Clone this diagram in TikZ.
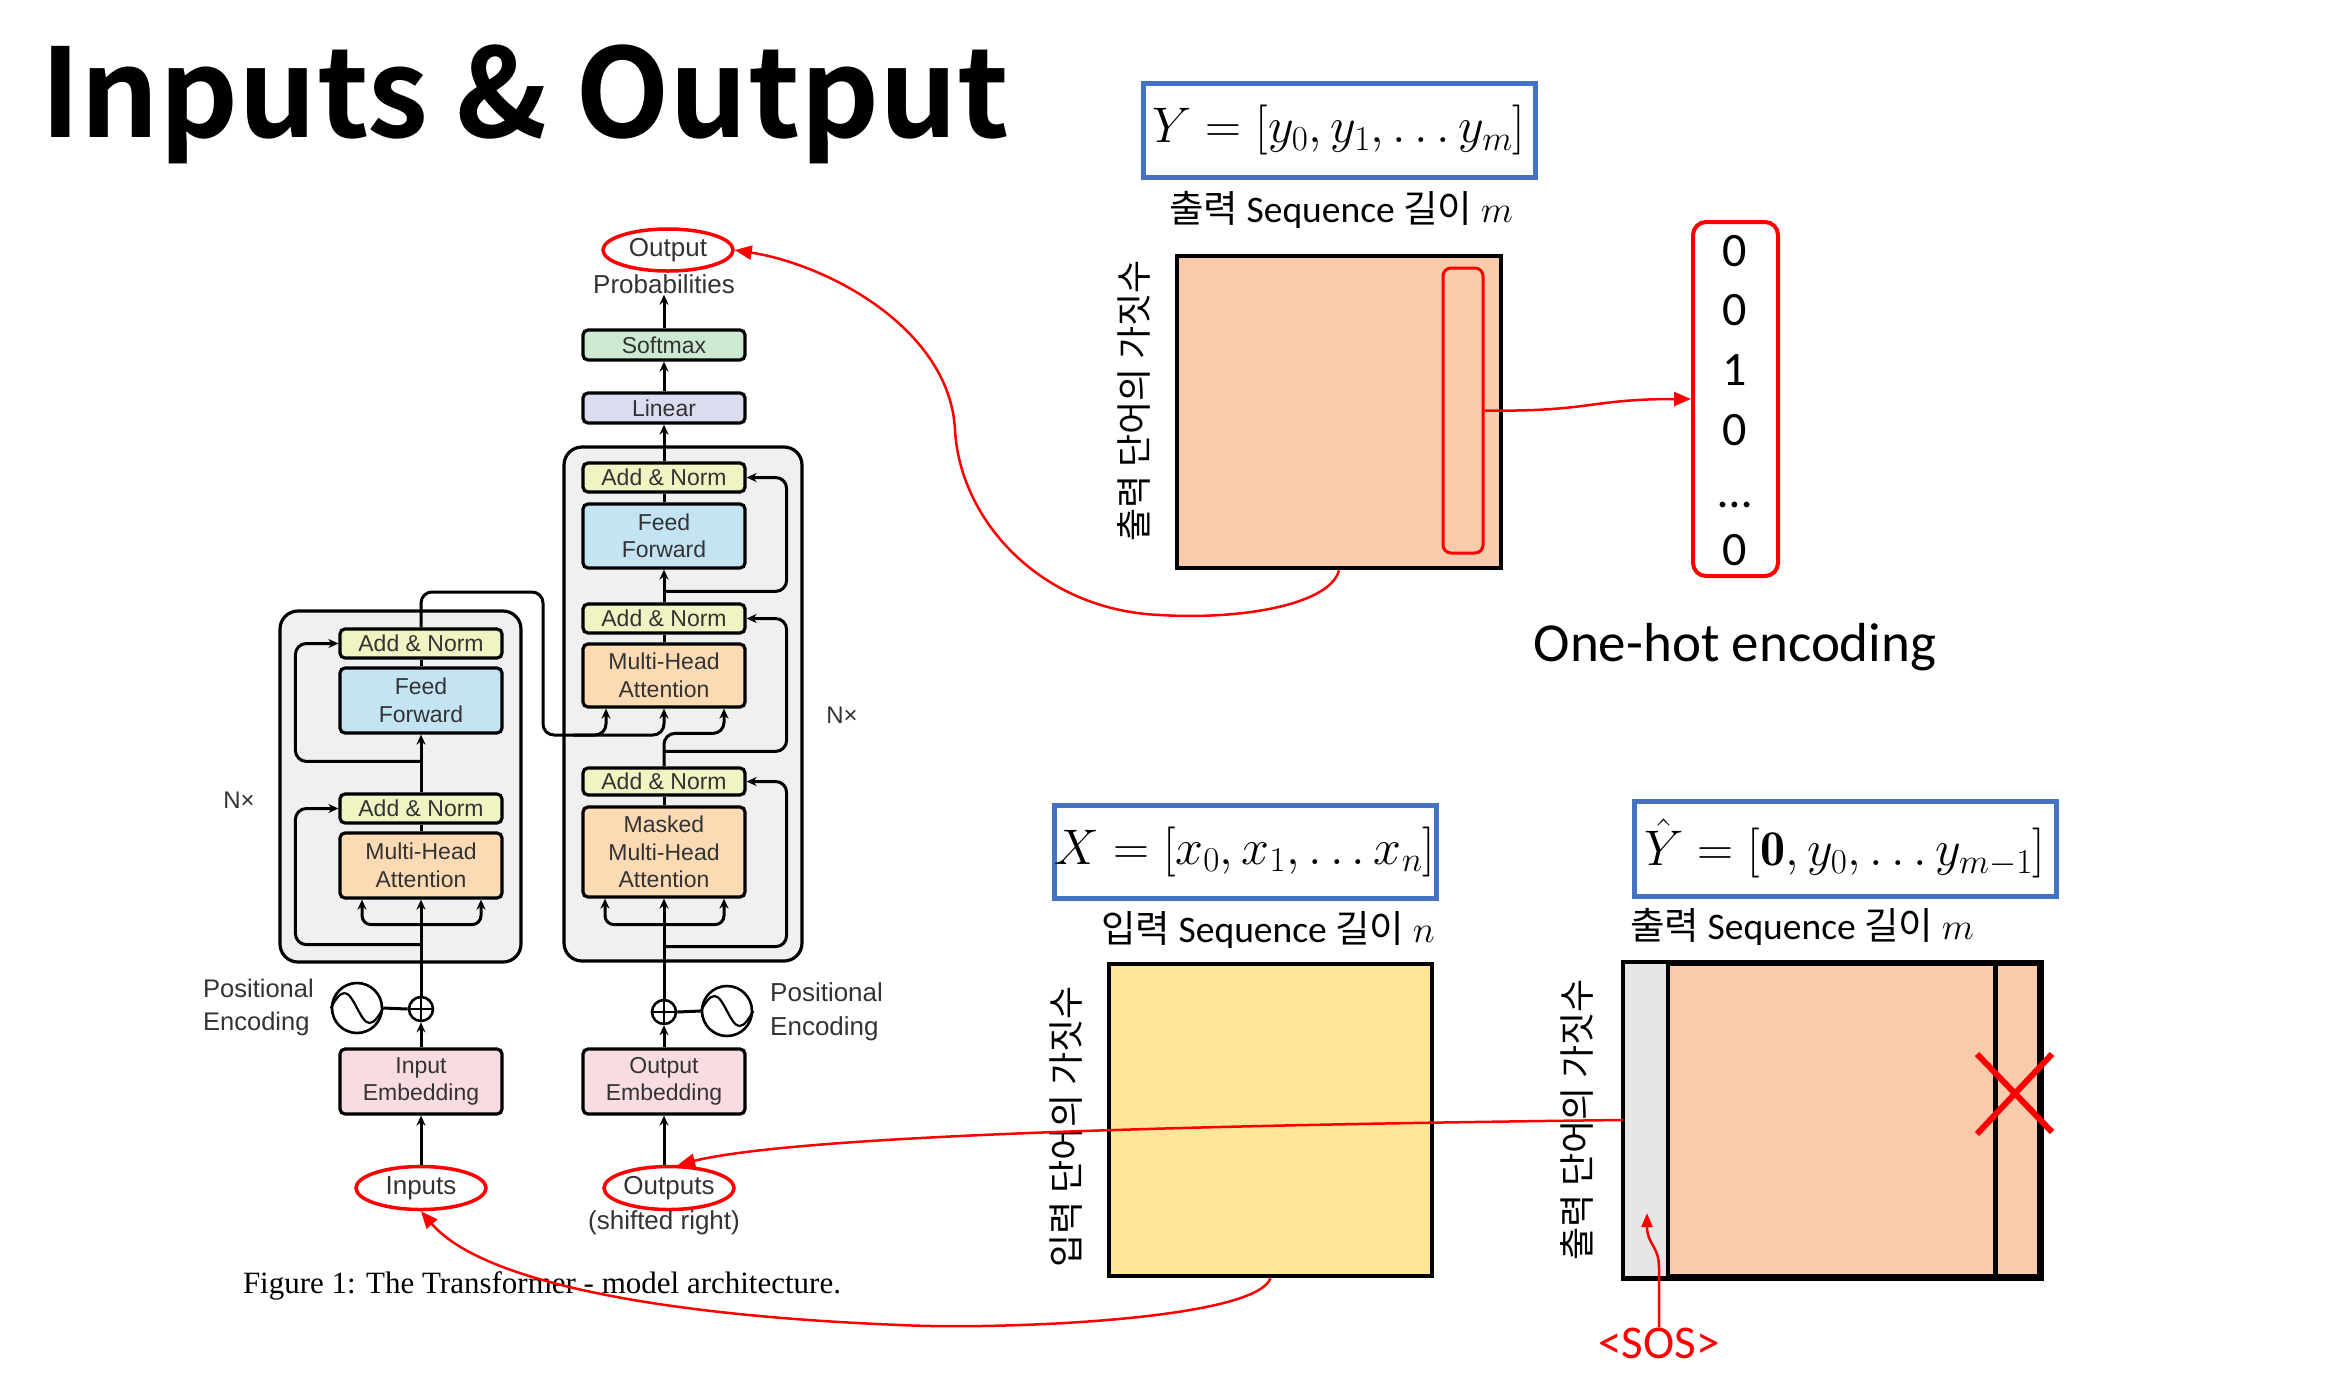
\RequirePackage{fix-cm}
\documentclass[tikz,border=0pt]{standalone}
\usepackage{fontspec}
\usetikzlibrary{arrows.meta,shapes.geometric,calc}
\newfontfamily\krfont{Noto Sans CJK KR}
\newfontfamily\titlefont{Noto Sans CJK KR Bold}
\newfontfamily\calfont{Carlito}
\newfontfamily\helvfont{Liberation Sans}
\newfontfamily\timesfont{Liberation Serif}
\definecolor{anfill}{HTML}{F0F4C3}
\definecolor{fffill}{HTML}{C4E4F4}
\definecolor{mhafill}{HTML}{FCDAB4}
\definecolor{embfill}{HTML}{F9DCE2}
\definecolor{softfill}{HTML}{CCEAD1}
\definecolor{linfill}{HTML}{DCDCF0}
\definecolor{boxgray}{HTML}{F0F0F0}
\definecolor{txtgray}{HTML}{333333}
\definecolor{orangefill}{HTML}{F8CBAD}
\definecolor{yellowfill}{HTML}{FFE699}
\definecolor{grayfill}{HTML}{E7E6E6}
\definecolor{blueline}{HTML}{4472C4}
\definecolor{myred}{HTML}{FF0000}
\begin{document}
\begin{tikzpicture}[x=1pt,y=-1pt,
  tbox/.style={draw=black, line width=3.2pt, rounded corners=5pt, minimum width=162pt, inner sep=0pt, align=center, text=txtgray, font=\helvfont\fontsize{23}{27.5}\selectfont},
  outerbox/.style={draw=black, fill=boxgray, line width=3.2pt, rounded corners=18pt, inner sep=0pt},
  conn/.style={draw=black, line width=3pt},
  arr/.style={conn, -{Stealth[length=10pt,width=9pt]}},
  lab/.style={inner sep=1pt, text=txtgray, font=\helvfont\fontsize{26}{33}\selectfont},
  redell/.style={ellipse, draw=myred, line width=3.5pt, inner sep=0pt, text=txtgray, font=\helvfont\fontsize{26}{30}\selectfont},
  redarr/.style={draw=myred, line width=2.5pt, -{Triangle[length=17pt,width=14pt]}},
  bluebox/.style={draw=blueline, line width=5pt, inner sep=0pt, font=\fontsize{50}{56}\selectfont},
  rectbox/.style={draw=black, line width=4.5pt, inner sep=0pt},
  seqlab/.style={inner sep=0pt, font=\calfont\fontsize{37.5}{42}\selectfont},
  krlab/.style={inner sep=0pt, font=\krfont\fontsize{36}{40}\selectfont},
  digit/.style={anchor=base, inner sep=0pt, font=\calfont\fontsize{48}{52}\selectfont}
]
\useasboundingbox (0,0) rectangle (2345,1385);
\fill[white] (0,0) rectangle (2345,1385);

% title
\node[anchor=base west, inner sep=0pt, font=\titlefont\fontsize{123}{123}\selectfont] (title) at (40,137) {Inputs \& Output};

% ===== Transformer =====
\node[outerbox, minimum width=241pt, minimum height=351pt] (encbox) at (400.5,786.5) {};
\node[outerbox, minimum width=238pt, minimum height=514pt] (decbox) at (683,704) {};

% decoder
\node[tbox, fill=softfill, minimum height=30pt] (soft) at (664,345) {Softmax};
\node[tbox, fill=linfill, minimum height=30pt] (lin) at (664,408) {Linear};
\node[tbox, fill=anfill, minimum height=29pt] (dan1) at (664,477.5) {Add \& Norm};
\node[tbox, fill=fffill, minimum height=64pt] (dff) at (664,536) {Feed\\Forward};
\node[tbox, fill=anfill, minimum height=29pt] (dan2) at (664,618.5) {Add \& Norm};
\node[tbox, fill=mhafill, minimum height=63pt] (dmha) at (664,675.5) {Multi-Head\\Attention};
\node[tbox, fill=anfill, minimum height=27pt] (dan3) at (664,781.5) {Add \& Norm};
\node[tbox, fill=mhafill, minimum height=90pt] (dmmha) at (664,852) {Masked\\Multi-Head\\Attention};
\node[tbox, fill=embfill, minimum height=65pt] (demb) at (664,1081.5) {Output\\Embedding};

% encoder
\node[tbox, fill=anfill, minimum height=29pt] (ean1) at (421,643.5) {Add \& Norm};
\node[tbox, fill=fffill, minimum height=65pt] (eff) at (421,700.5) {Feed\\Forward};
\node[tbox, fill=anfill, minimum height=29pt] (ean2) at (421,808.5) {Add \& Norm};
\node[tbox, fill=mhafill, minimum height=65pt] (emha) at (421,865.5) {Multi-Head\\Attention};
\node[tbox, fill=embfill, minimum height=65pt] (eemb) at (421,1081.5) {Input\\Embedding};

% positional encodings
\node[circle, draw=black, line width=2.6pt, minimum size=24pt, inner sep=0pt] (eplus) at (421,1009) {};
\draw[line width=2.2pt] (eplus.north) -- (eplus.south) (eplus.west) -- (eplus.east);
\node[circle, draw=black, line width=2.6pt, minimum size=50pt, inner sep=0pt] (esine) at (357,1008) {};
\draw[line width=2.2pt] (esine.west) sin ($(esine.center)+(-12.5,-15)$) cos (esine.center) sin ($(esine.center)+(12.5,15)$) cos (esine.east);
\draw[conn] (esine.east) -- (eplus.west);
\node[circle, draw=black, line width=2.6pt, minimum size=24pt, inner sep=0pt] (dplus) at (664,1012) {};
\draw[line width=2.2pt] (dplus.north) -- (dplus.south) (dplus.west) -- (dplus.east);
\node[circle, draw=black, line width=2.6pt, minimum size=50pt, inner sep=0pt] (dsine) at (727,1011) {};
\draw[line width=2.2pt] (dsine.west) sin ($(dsine.center)+(-12.5,-15)$) cos (dsine.center) sin ($(dsine.center)+(12.5,15)$) cos (dsine.east);
\draw[conn] (dplus.east) -- (dsine.west);

\node[lab, align=left, anchor=west, font=\helvfont\fontsize{25.5}{33}\selectfont] (epos) at (202,1007) {Positional\\Encoding};
\node[lab, align=left, anchor=west, font=\helvfont\fontsize{26}{34}\selectfont] (dpos) at (769,1012) {Positional\\Encoding};
\node[lab, font=\helvfont\fontsize{24}{28}\selectfont] (enx) at (239,800) {N×};
\node[lab, font=\helvfont\fontsize{24}{28}\selectfont] (dnx) at (842,715) {N×};

% inputs / outputs
\node[redell, minimum width=130pt, minimum height=42pt] (oprob) at (668,250) {Output};
\node[lab] (prob) at (664,284) {Probabilities};
\node[redell, minimum width=130pt, minimum height=43pt] (inell) at (421,1188) {Inputs};
\node[redell, minimum width=130pt, minimum height=43pt] (outell) at (669,1188) {Outputs};
\node[lab] (shift) at (664,1223) {(shifted right)};
\node[anchor=base, inner sep=0pt, font=\timesfont\fontsize{31}{35}\selectfont] (caption) at (542,1293) {Figure 1: The Transformer - model architecture.};

% encoder connectors
\draw[arr] (inell.north) -- (eemb.south);
\draw[arr] (eemb.north) -- (eplus.south);
\draw[arr] (eplus.north) -- (emha.south);
\draw[arr, rounded corners=9pt] ([yshift=-25pt]emha.south) -| ([xshift=-59pt]emha.south);
\draw[arr, rounded corners=9pt] ([yshift=-25pt]emha.south) -| ([xshift=60pt]emha.south);
\draw[arr, rounded corners=11pt] ([yshift=-45pt]emha.south) -| ([xshift=-43pt]ean2.west) -- (ean2.west);
\draw[conn] (emha.north) -- (ean2.south);
\draw[arr] (ean2.north) -- (eff.south);
\draw[arr, rounded corners=11pt] ([yshift=31pt]ean2.north) -| ([xshift=-43pt]ean1.west) -- (ean1.west);
\draw[conn] (eff.north) -- (ean1.south);
\coordinate (kv) at (543,735);
\draw[arr, rounded corners=11pt] (ean1.north) |- ($(kv)+(0,-143)$) -- (kv) -| ([xshift=-58pt]dmha.south);
\draw[arr, rounded corners=11pt] ([xshift=30pt]kv) -| (dmha.south);

% decoder connectors
\draw[arr] (demb.south |- outell.north) -- (demb.south);
\draw[arr] (demb.north) -- (dplus.south);
\draw[arr] (dplus.north) -- (dmmha.south);
\draw[arr, rounded corners=9pt] ([yshift=-26pt]dmmha.south) -| ([xshift=-59pt]dmmha.south);
\draw[arr, rounded corners=9pt] ([yshift=-26pt]dmmha.south) -| ([xshift=60pt]dmmha.south);
\draw[arr, rounded corners=11pt] ([yshift=-48pt]dmmha.south) -| ([xshift=40pt]dan3.east) -- (dan3.east);
\draw[conn] (dmmha.north) -- (dan3.south);
\draw[arr, rounded corners=11pt] (dan3.north) -- ([yshift=33pt]dan3.north) -| ([xshift=60pt]dmha.south);
\draw[arr, rounded corners=11pt] ([yshift=15pt]dan3.north) -| ([xshift=40pt]dan2.east) -- (dan2.east);
\draw[conn] (dmha.north) -- (dan2.south);
\draw[arr] (dan2.north) -- (dff.south);
\draw[arr, rounded corners=11pt] ([yshift=11pt]dan2.north) -| ([xshift=40pt]dan1.east) -- (dan1.east);
\draw[conn] (dff.north) -- (dan1.south);
\draw[arr] (dan1.north) -- (lin.south);
\draw[arr] (lin.north) -- (soft.south);
\draw[arr] (soft.north) -- (prob.south);

% ===== Right side =====
\node[bluebox, minimum width=392pt, minimum height=94pt] (ybox) at (1339,130) {$Y = [y_0, y_1, \ldots y_m]$};
\node[seqlab] (yseq) at (1341,210) {{\krfont 출력} Sequence {\krfont 길이} $m$};
\node[rectbox, fill=orangefill, minimum width=324pt, minimum height=312pt] (orect) at (1339,412) {};
\node[krlab, rotate=90] (ylab) at (1134,401) {출력 단어의 가짓수};
\node[draw=myred, line width=3pt, rounded corners=8pt, minimum width=40pt, minimum height=285pt, inner sep=0pt] (sel) at (1463,410.5) {};
\node[draw=myred, line width=4pt, rounded corners=13pt, minimum width=85pt, minimum height=354pt, inner sep=0pt] (onehot) at (1735.5,399) {};
\node[digit] (d1) at (1735,266) {0};
\node[digit] (d2) at (1735,325) {0};
\node[digit] (d3) at (1735,385) {1};
\node[digit] (d4) at (1735,445) {0};
\node[digit] (d5) at (1735,507) {…};
\node[digit] (d6) at (1735,565) {0};
\node[anchor=base, inner sep=0pt, font=\calfont\fontsize{55}{60}\selectfont] (ohlab) at (1735,661) {One-hot encoding};

\node[bluebox, minimum width=382pt, minimum height=93pt] (xbox) at (1245,851.5) {$X = [x_0, x_1, \ldots x_n]$};
\node[seqlab] (xseq) at (1268,930) {{\krfont 입력} Sequence {\krfont 길이} $n$};
\node[rectbox, fill=yellowfill, minimum width=323pt, minimum height=312pt] (xrect) at (1270.5,1120) {};
\node[krlab, rotate=90] (xlab) at (1066,1127) {입력 단어의 가짓수};

\node[bluebox, minimum width=422pt, minimum height=95pt] (yhbox) at (1845,848.5) {$\hat{Y} = [\mathbf{0}, y_0, \ldots y_{m-1}]$};
\node[seqlab] (yhseq) at (1802,927) {{\krfont 출력} Sequence {\krfont 길이} $m$};
\node[rectbox, fill=orangefill, minimum width=414pt, minimum height=312pt] (yrect) at (1832,1120) {};
\fill[grayfill] (yrect.north west) rectangle ([xshift=45pt]yrect.south west);
\draw[line width=4.5pt] (yrect.north west) rectangle (yrect.south east);
\draw[line width=4.5pt] ([xshift=45pt]yrect.north west) -- ([xshift=45pt]yrect.south west);
\draw[line width=4.5pt] ([xshift=-46pt]yrect.north east) -- ([xshift=-46pt]yrect.south east);
\node[krlab, rotate=90] (yhlab) at (1577,1120) {출력 단어의 가짓수};
\draw[myred, line width=6pt] (1977,1054) -- (2052,1132) (2052,1054) -- (1977,1134);

\node[inner sep=0pt, text=myred, font=\calfont\fontsize{47}{50}\selectfont] (sostxt) at (1659,1343) {<SOS>};
\coordinate (sospt) at (1647,1213);

% red connectors
\draw[redarr] (orect.south) .. controls (1330,605) and (1240,620) .. (1160,615) .. controls (1040,610) and (960,520) .. (955,430) .. controls (950,330) and (830,265) .. (oprob.east);
\draw[redarr] (sel.east) .. controls (1590,412) and (1590,399) .. (onehot.west);
\draw[redarr] (yrect.west) .. controls (1200,1125) and (800,1135) .. ([xshift=9pt]outell.north);
\draw[redarr] (xrect.south) .. controls (1255,1320) and (1000,1330) .. (900,1325) .. controls (650,1315) and (480,1280) .. (inell.south);
\draw[draw=myred, line width=2.5pt, -{Triangle[length=14pt,width=11pt]}] (sostxt.north) -- (1659,1268) .. controls (1659,1245) and (1647,1245) .. (sospt);
\end{tikzpicture}
\end{document}
